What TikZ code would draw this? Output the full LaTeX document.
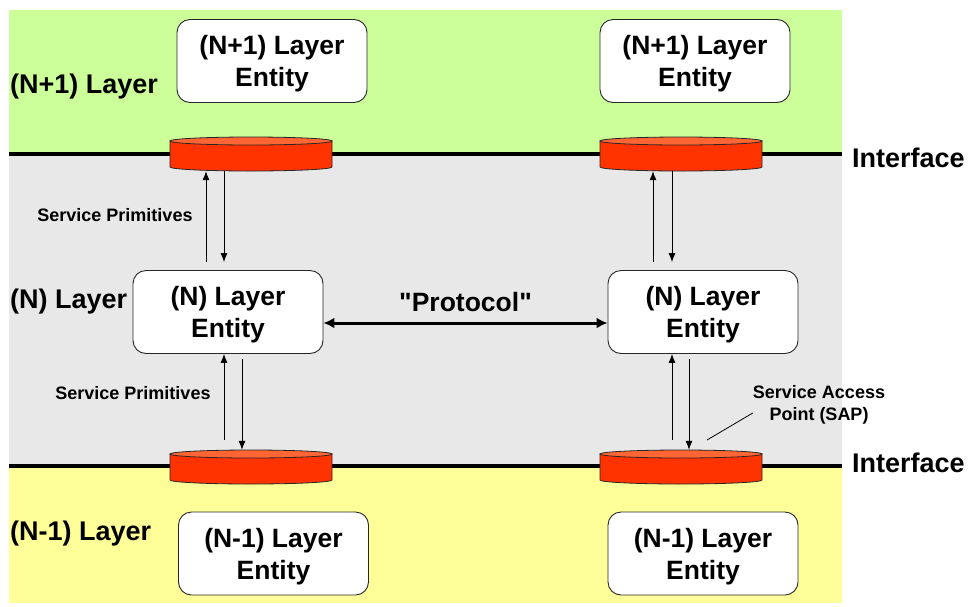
\documentclass[tikz,border=0pt]{standalone}
\usepackage{fontspec}
\setmainfont{Liberation Sans}[Ligatures=TeXOff]
\usetikzlibrary{arrows.meta,calc}
\definecolor{bgGreen}{HTML}{CCFF99}
\definecolor{bgGray}{HTML}{E8E8E8}
\definecolor{bgYellow}{HTML}{FFFF99}
\definecolor{cylBody}{HTML}{FF3300}
\definecolor{cylTop}{HTML}{FF6633}
\newcommand{\cylinderat}[3]{%
  \node[cylnode] (#1) at (#2,#3) {};
  \filldraw[cylline, fill=cylBody] ({#2-81},{#3-13}) -- ({#2-81},{#3+13})
     arc[start angle=180, end angle=0, x radius=81, y radius=4] -- ({#2+81},{#3-13}) -- cycle;
  \filldraw[cylline, fill=cylTop] (#2,{#3-13}) ellipse [x radius=81, y radius=4];
}
\begin{document}
\begin{tikzpicture}[x=1pt,y=-1pt,
  entity/.style={draw=black!85, line width=0.9pt, fill=white, rounded corners=13pt,
     minimum width=190pt, minimum height=83pt, inner sep=0pt, align=center, text depth=0pt,
     font=\fontsize{26.5}{32}\selectfont\bfseries},
  biglabel/.style={font=\fontsize{27}{32}\selectfont\bfseries, inner sep=0pt},
  smalllabel/.style={font=\fontsize{18}{22}\selectfont\bfseries, inner sep=0pt, align=center},
  cylnode/.style={minimum width=162pt, minimum height=34pt, inner sep=0pt},
  cylline/.style={draw=black!85, line width=0.8pt},
  iface/.style={line width=4pt, black},
  prim/.style={line width=0.8pt, -{Latex[length=9pt,width=7pt]}},
  proto/.style={line width=3pt, {Latex[length=11pt,width=11pt]}-{Latex[length=11pt,width=11pt]}}
]
\useasboundingbox (0,0) rectangle (968,606);
% layer backgrounds
\fill[bgGreen] (9,10) rectangle (842,154);
\fill[bgGray] (9,154) rectangle (842,466);
\fill[bgYellow] (9,466) rectangle (842,603);
% interface lines
\draw[iface] (9,154) -- (842,154);
\draw[iface] (9,466) -- (842,466);
% labels
\node[biglabel, anchor=west] (lN1) at (10,87) {(N+1) Layer};
\node[biglabel, anchor=west] (lN) at (10,302) {(N) Layer};
\node[biglabel, anchor=west] (lNm) at (10,534) {(N-1) Layer};
\node[biglabel, anchor=west] (if1) at (852,158) {Interface};
\node[biglabel, anchor=west] (if2) at (852,463) {Interface};
% entities
\node[entity] (eA) at (272,61) {(N+1) Layer\\Entity};
\node[entity] (eB) at (695,61) {(N+1) Layer\\Entity};
\node[entity] (nL) at (228,312) {(N) Layer\\Entity};
\node[entity] (nR) at (703,312) {(N) Layer\\Entity};
\node[entity] (mL) at (273.5,553.5) {(N-1) Layer\\Entity};
\node[entity] (mR) at (703,553.5) {(N-1) Layer\\Entity};
% cylinders (SAPs)
\cylinderat{cA}{251}{154}
\cylinderat{cB}{681}{154}
\cylinderat{cC}{251}{467}
\cylinderat{cD}{681}{467}
% service primitive arrows, upper
\draw[prim, shorten <=8pt] ([xshift=-22pt]nL.north) -- ([xshift=-45pt]cA.south);
\draw[prim, shorten >=8pt] ([xshift=-27pt]cA.south) -- ([xshift=-4pt]nL.north);
\draw[prim, shorten <=8pt] ([xshift=-50pt]nR.north) -- ([xshift=-28pt]cB.south);
\draw[prim, shorten >=8pt] ([xshift=-9pt]cB.south) -- ([xshift=-31pt]nR.north);
% service primitive arrows, lower
\draw[prim, shorten <=10pt] ([xshift=-27pt]cC.north) -- ([xshift=-4pt]nL.south);
\draw[prim, shorten <=5pt] ([xshift=14pt]nL.south) -- ([xshift=-9pt]cC.north);
\draw[prim, shorten <=10pt] ([xshift=-9pt]cD.north) -- ([xshift=-31pt]nR.south);
\draw[prim, shorten <=5pt] ([xshift=-14pt]nR.south) -- ([xshift=8pt]cD.north);
% protocol
\draw[proto] ([yshift=-11pt]nL.east) -- node[biglabel, font=\fontsize{26.5}{32}\selectfont\bfseries, above=10pt] (plabel) {"Protocol"} ([yshift=-11pt]nR.west);
% small labels
\node[smalllabel] (sp1) at (115,215) {Service Primitives};
\node[smalllabel] (sp2) at (133,393) {Service Primitives};
\node[smalllabel] (sap) at (819,405) {Service Access\\Point (SAP)};
\coordinate (sapPt) at (707,440);
\draw[line width=0.8pt] ([yshift=-8pt]sap.west) -- (sapPt);
\end{tikzpicture}
\end{document}
